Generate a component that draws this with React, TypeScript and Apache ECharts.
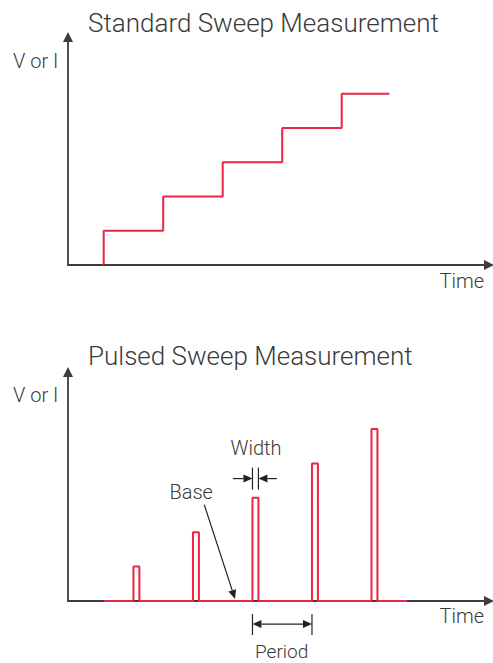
import React, { useEffect, useRef } from "react";
import * as echarts from "echarts";

// ---- data ----
const stepTimes = [6, 16, 26, 36, 46, 54];
const stepLevels = [1, 2, 3, 4, 5];
const pulseStarts = [11, 21, 31, 41, 51];
const pulseLevels = [1, 2, 3, 4, 5];
const pulseWidth = 1;
const baseStart = 6;
const baseEnd = 57;

const titles = ["Standard Sweep Measurement", "Pulsed Sweep Measurement"];
const yName = "V or I";
const xName = "Time";
const annotations = ["Width", "Base", "Period"];

const RED = "#EE2542";
const AXIS = "#3d3d3d";
const TEXT = "#3a3a3a";
const INK = "#222222";
const FONT = "Roboto, 'Noto Sans', sans-serif";

function stepData(): number[][] {
  const pts: number[][] = [[stepTimes[0], 0]];
  stepLevels.forEach((lv, i) => {
    pts.push([stepTimes[i], lv]);
    pts.push([stepTimes[i + 1], lv]);
  });
  return pts;
}

function pulseData(): number[][] {
  const pts: number[][] = [[baseStart, 0]];
  pulseStarts.forEach((s, i) => {
    pts.push([s, 0], [s, pulseLevels[i]], [s + pulseWidth, pulseLevels[i]], [s + pulseWidth, 0]);
  });
  pts.push([baseEnd, 0]);
  return pts;
}

const axisLine = {
  show: true,
  onZero: false,
  symbol: ["none", "triangle"],
  symbolSize: [10, 10],
  lineStyle: { color: AXIS, width: 1.8 },
};

function xAx(gridIndex: number) {
  return {
    type: "value",
    gridIndex,
    min: 0,
    max: 70.75,
    axisLine,
    axisTick: { show: false },
    axisLabel: { show: false },
    splitLine: { show: false },
  };
}
function yAx(gridIndex: number) {
  return {
    type: "value",
    gridIndex,
    min: 0,
    max: 6.66,
    axisLine,
    axisTick: { show: false },
    axisLabel: { show: false },
    splitLine: { show: false },
  };
}

function txt(text: string, x: number, y: number, size: number, align: string) {
  return {
    type: "text",
    x,
    y,
    silent: true,
    style: {
      text,
      fontSize: size,
      fontFamily: FONT,
      fontWeight: 300,
      fill: TEXT,
      align,
      textAlign: align,
      verticalAlign: "middle",
      textVerticalAlign: "middle",
    },
  };
}

export default function App() {
  const ref = useRef<HTMLDivElement>(null);
  useEffect(() => {
    if (!ref.current) return;
    const chart = echarts.init(ref.current, null, { renderer: "svg" });
    chart.setOption({
      animation: false,
      grid: [
        { left: 68, right: 4, top: 37, bottom: 398 },
        { left: 68, right: 4, top: 372, bottom: 62 },
      ],
      xAxis: [xAx(0), xAx(1)],
      yAxis: [yAx(0), yAx(1)],
      series: [
        {
          type: "line",
          xAxisIndex: 0,
          yAxisIndex: 0,
          data: stepData(),
          symbol: "none",
          clip: false,
          silent: true,
          lineStyle: { color: RED, width: 2 },
        },
        {
          type: "line",
          xAxisIndex: 1,
          yAxisIndex: 1,
          data: pulseData(),
          symbol: "none",
          clip: false,
          silent: true,
          lineStyle: { color: RED, width: 2 },
        },
      ],
    });

    const p = (x: number, y: number): number[] =>
      chart.convertToPixel({ gridIndex: 1 } as any, [x, y]) as number[];

    const els: any[] = [];
    const seg = (a: number[], b: number[]) =>
      els.push({
        type: "line",
        silent: true,
        shape: { x1: a[0], y1: a[1], x2: b[0], y2: b[1] },
        style: { stroke: INK, lineWidth: 1.2 },
      });
    const head = (from: number[], tip: number[], len = 9, half = 4) => {
      const dx = tip[0] - from[0];
      const dy = tip[1] - from[1];
      const d = Math.hypot(dx, dy);
      const ux = dx / d, uy = dy / d;
      const bx = tip[0] - ux * len, by = tip[1] - uy * len;
      els.push({
        type: "polygon",
        silent: true,
        shape: {
          points: [
            [tip[0], tip[1]],
            [bx - uy * half, by + ux * half],
            [bx + uy * half, by - ux * half],
          ],
        },
        style: { fill: INK },
      });
      return [bx, by];
    };
    const arrow = (from: number[], tip: number[]) => {
      const b = head(from, tip);
      seg(from, b);
    };

    // Width annotation
    const w0 = pulseStarts[2];
    const w1 = pulseStarts[2] + pulseWidth;
    seg(p(w0, 3.24), p(w0, 3.88));
    seg(p(w1, 3.24), p(w1, 3.88));
    arrow(p(27.7, 3.56), p(w0, 3.56));
    arrow(p(35.1, 3.56), p(w1, 3.56));

    // Base annotation
    arrow(p(22.9, 2.8), p(28.07, 0.06));

    // Period annotation
    const q0 = pulseStarts[2];
    const q1 = pulseStarts[3];
    seg(p(q0, -0.38), p(q0, -0.99));
    seg(p(q1, -0.38), p(q1, -0.99));
    const a = p(q0, -0.67);
    const b = p(q1, -0.67);
    const ba = head(b, a);
    const bb = head(a, b);
    seg(ba, bb);

    const wPos = p(31.6, 4.46);
    const bPos = p(20.7, 3.18);
    const pPos = p(35.9, -1.47);

    els.push(
      txt(titles[0], 88, 23, 26, "left"),
      txt(yName, 13, 61, 20, "left"),
      txt(xName, 484, 281, 20, "right"),
      txt(titles[1], 88, 356, 26, "left"),
      txt(yName, 13, 395, 20, "left"),
      txt(xName, 484, 616, 20, "right"),
      txt(annotations[0], wPos[0], wPos[1], 20, "center"),
      txt(annotations[1], bPos[0], bPos[1], 20, "center"),
      txt(annotations[2], pPos[0], pPos[1], 19, "center")
    );

    chart.setOption({ graphic: { elements: els } });
    return () => chart.dispose();
  }, []);
  return (
    <div
      ref={ref}
      style={{ position: "fixed", left: 0, top: 0, width: 493, height: 663, background: "#fff" }}
    />
  );
}
